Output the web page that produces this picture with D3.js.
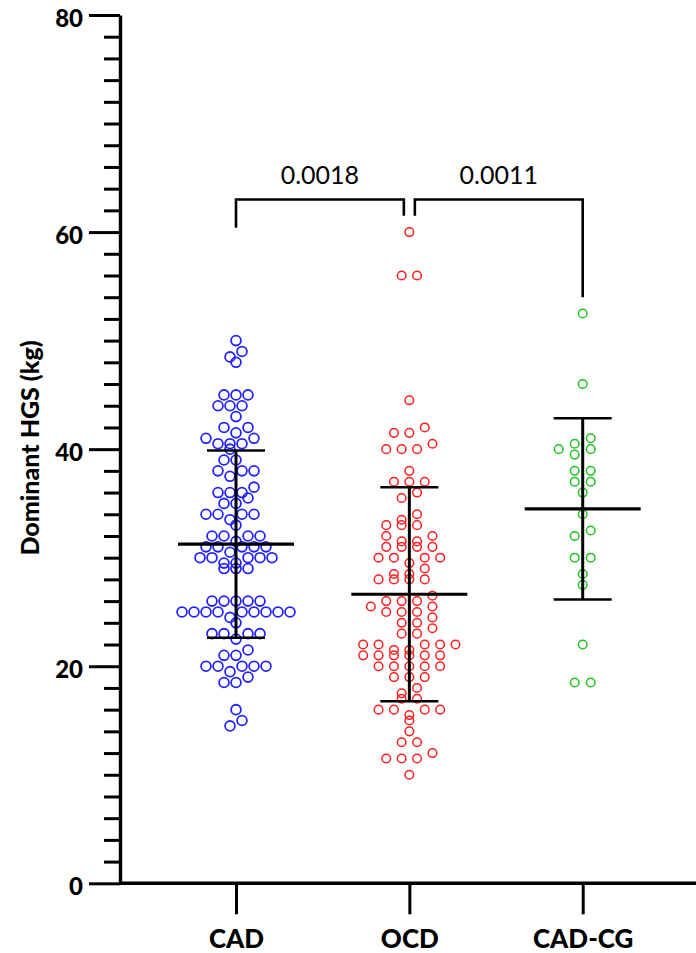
<!DOCTYPE html>
<html>
<head>
<meta charset="utf-8">
<script src="https://cdn.jsdelivr.net/npm/d3@7"></script>
<style>
  html, body { margin: 0; padding: 0; background: #fff; }
  svg { display: block; }
</style>
</head>
<body>
<svg id="chart" width="696" height="953"></svg>
<script>
// Group names along the x axis
const categories = ["CAD", "OCD", "CAD-CG"];

// Dominant hand-grip strength (kg) of every subject, per group
const cadValues = [
  50, 49, 48.5, 48, 45, 45, 45, 44, 44, 44, 43, 42, 42, 41.5, 41, 41,
  40.5, 40.5, 40.5, 40, 39, 39, 38, 38, 38, 37.5, 36.5, 36, 36, 36, 35.5,
  35, 35, 34, 34, 34, 34, 33.5, 33, 32, 32, 32, 32, 31.5, 31, 31, 31, 31, 31,
  30.5, 30, 30, 30, 30, 30, 29.5, 29.5, 29, 29, 29, 26, 26, 26, 26, 26,
  25, 25, 25, 25, 25, 25, 25, 25, 25, 24.5, 24, 23, 23, 23, 23, 22.5, 21.5,
  21, 21, 20, 20, 20, 20, 20, 19.5, 19, 18.5, 18.5, 16, 15, 14.5
];
const ocdValues = [
  60, 56, 56, 44.5, 42, 41.5, 41.5, 40.5, 40, 40, 40, 38, 37, 37, 37, 36,
  35.5, 34, 33.5, 33, 33, 33, 32, 32, 31.5, 31.5, 31, 31, 31, 31, 30, 30,
  30, 30, 29.5, 29, 28.5, 28.5, 28, 28, 28, 28, 26.5, 26, 26, 26, 25.5, 25.5,
  25, 25, 25, 24.5, 24, 24, 23.5, 23, 23, 22, 22, 22, 22, 22, 21.5, 21.5,
  21, 21, 21, 21, 21, 21, 20, 20, 20, 20, 20, 19, 19, 19, 18, 17.5, 17, 17,
  16, 16, 16, 16, 15.5, 15, 14, 13, 13, 12, 11.5, 11.5, 11.5, 10
];
const cadCgValues = [
  52.5, 46, 41, 40.5, 40, 40, 39.5, 38, 38, 37, 37, 36, 34, 32.5, 32,
  30, 30, 28.5, 27.5, 22, 18.5, 18.5
];
const groupValues = [cadValues, ocdValues, cadCgValues];

// Y axis labelled ticks
const yTickValues = [0, 20, 40, 60, 80];

// Pairwise comparisons: group indices, p values, bracket height and leg ends (kg)
const comparisonPairs = [[0, 1], [1, 2]];
const comparisonLabels = ["0.0018", "0.0011"];
const bracketLevel = 63;
const bracketLegEnds = [[60.4, 61.5], [61.5, 54.0]];

// ---- drawing ----
const colors = ["#2323ff", "#ff1e1e", "#22c322"];
const dotRadius = [4.9, 4.3, 4.3];
const dotStroke = [1.8, 1.5, 1.5];
const dotStep = [12, 15.4, 16];

const svg = d3.select("#chart");
const fontStack = "Lato, 'Open Sans', 'DejaVu Sans', sans-serif";

const y = d3.scaleLinear().domain([0, 80]).range([883.3, 15]);
const x = d3.scalePoint().domain(categories).range([236, 582.7]);
const axisX0 = 120;

// Arrange each group's dots in horizontal rows (swarm layout)
function swarm(values, step, r) {
  const sorted = values.map(v => ({ v })).sort((a, b) => b.v - a.v);
  const rows = [];
  let cur = null;
  for (const p of sorted) {
    if (cur && cur.top - p.v < 0.95) cur.items.push(p);
    else { cur = { top: p.v, items: [p] }; rows.push(cur); }
  }
  const placed = [];
  const minD = 2 * r + 1.2;
  for (const row of rows) {
    const items = row.items.slice().sort((a, b) => a.v - b.v);
    const n = items.length;
    const slots = d3.range(n).map(i => (i - (n - 1) / 2) * step)
      .sort((a, b) => Math.abs(a) - Math.abs(b) || a - b);
    let best = null, bestHits = Infinity;
    for (const shift of [0, -step / 2, step / 2]) {
      let hits = 0;
      items.forEach((p, i) => {
        const px = slots[i] + shift, py = y(p.v);
        for (const q of placed) {
          if (Math.hypot(px - q.dx, py - y(q.v)) < minD) hits++;
        }
      });
      if (hits < bestHits) { bestHits = hits; best = shift; }
    }
    items.forEach((p, i) => { p.dx = slots[i] + best; placed.push(p); });
  }
  return placed;
}

// Dots
groupValues.forEach((vals, gi) => {
  const pts = swarm(vals, dotStep[gi], dotRadius[gi]);
  svg.append("g")
    .selectAll("circle")
    .data(pts)
    .join("circle")
    .attr("cx", d => x(categories[gi]) + d.dx)
    .attr("cy", d => y(d.v))
    .attr("r", dotRadius[gi])
    .attr("fill", "none")
    .attr("stroke", colors[gi])
    .attr("stroke-width", dotStroke[gi]);
});

// Mean and SD bars
const stats = groupValues.map(v => ({ mean: d3.mean(v), sd: d3.deviation(v) }));
const bars = svg.append("g").attr("stroke", "#000");
stats.forEach((s, gi) => {
  const cx = x(categories[gi]);
  bars.append("line")
    .attr("x1", cx).attr("x2", cx)
    .attr("y1", y(s.mean + s.sd)).attr("y2", y(s.mean - s.sd))
    .attr("stroke-width", 3);
  bars.append("line")
    .attr("x1", cx - 58).attr("x2", cx + 58)
    .attr("y1", y(s.mean)).attr("y2", y(s.mean))
    .attr("stroke-width", 3.2);
  [s.mean + s.sd, s.mean - s.sd].forEach(v => {
    bars.append("line")
      .attr("x1", cx - 29).attr("x2", cx + 29)
      .attr("y1", y(v)).attr("y2", y(v))
      .attr("stroke-width", 2.6);
  });
});

// Y axis: minor ticks every 2 kg, labelled ticks every 20 kg
const minorTicks = d3.range(0, 81, 2).filter(v => v % 20 !== 0);
svg.append("g")
  .attr("transform", `translate(${axisX0},0)`)
  .call(d3.axisLeft(y).tickValues(minorTicks).tickSize(16).tickFormat(""))
  .call(g => g.select(".domain").remove())
  .call(g => g.selectAll("line").attr("stroke", "#000").attr("stroke-width", 3));

svg.append("g")
  .attr("transform", `translate(${axisX0},0)`)
  .call(d3.axisLeft(y).tickValues(yTickValues).tickSize(31).tickPadding(6).tickSizeOuter(0))
  .call(g => g.select(".domain").attr("stroke", "#000").attr("stroke-width", 3.4))
  .call(g => g.selectAll(".tick line").attr("stroke", "#000").attr("stroke-width", 3))
  .call(g => g.selectAll("text")
    .attr("fill", "#000")
    .attr("dy", "0.47em")
    .style("font-family", fontStack)
    .style("font-weight", "900")
    .style("font-size", "24px"));

// X axis
svg.append("g")
  .attr("transform", `translate(0,${y(0)})`)
  .call(d3.axisBottom(x).tickSize(31).tickSizeOuter(0))
  .call(g => g.select(".domain").attr("d", `M${axisX0},0H696`).attr("stroke", "#000").attr("stroke-width", 3.4))
  .call(g => g.selectAll(".tick line").attr("stroke", "#000").attr("stroke-width", 3))
  .call(g => g.selectAll("text")
    .attr("fill", "#000")
    .attr("y", 65)
    .attr("dy", 0)
    .style("font-family", fontStack)
    .style("font-weight", "900")
    .style("font-size", "26px"));

// Y axis title
svg.append("text")
  .attr("transform", `translate(39,448) rotate(-90)`)
  .attr("text-anchor", "middle")
  .style("font-family", fontStack)
  .style("font-weight", "900")
  .style("font-size", "25px")
  .attr("fill", "#000")
  .text("Dominant HGS (kg)");

// Significance brackets
const usage = d3.rollup(comparisonPairs.flat(), v => v.length, d => d);
const brackets = svg.append("g");
comparisonPairs.forEach(([a, b], i) => {
  let xa = x(categories[a]), xb = x(categories[b]);
  if (usage.get(a) > 1) xa += 5.5;
  if (usage.get(b) > 1) xb -= 5.5;
  const [la, lb] = bracketLegEnds[i];
  const yt = y(bracketLevel);
  brackets.append("path")
    .attr("d", `M${xa},${y(la)}V${yt}H${xb}V${y(lb)}`)
    .attr("fill", "none")
    .attr("stroke", "#000")
    .attr("stroke-width", 2.6);
  brackets.append("text")
    .attr("x", (xa + xb) / 2)
    .attr("y", yt - 16)
    .attr("text-anchor", "middle")
    .style("font-family", fontStack)
    .style("font-size", "25px")
    .attr("fill", "#000")
    .text(comparisonLabels[i]);
});
</script>
</body>
</html>
